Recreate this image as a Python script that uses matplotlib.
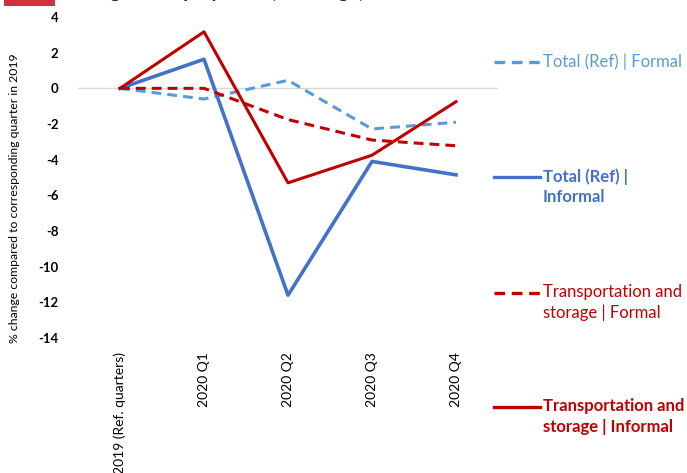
import matplotlib.pyplot as plt
from matplotlib.patches import Rectangle

plt.rcParams['font.family'] = ['Lato', 'DejaVu Sans']

categories = ['2019 (Ref. quarters)', '2020 Q1', '2020 Q2', '2020 Q3', '2020 Q4']
total_formal = [0, -0.6, 0.45, -2.28, -1.9]
total_informal = [0, 1.63, -11.6, -4.1, -4.85]
transport_formal = [0, 0.0, -1.75, -2.9, -3.22]
transport_informal = [0, 3.17, -5.3, -3.75, -0.75]

series_labels = ['Total (Ref) | Formal', 'Total (Ref) |\nInformal',
                 'Transportation and\nstorage | Formal', 'Transportation and\nstorage | Informal']

light_blue = '#5B9BD5'
blue = '#4472C4'
red = '#C00000'

W, H = 687, 473
fig = plt.figure(figsize=(6.87, 4.73), dpi=100)
ax = fig.add_axes([78 / W, 1 - 338 / H, 420 / W, 321 / H])

x = range(len(categories))
dash = (0, (3.2, 2.0))
ax.plot(x, total_formal, color=light_blue, lw=2.2, ls=dash)
ax.plot(x, total_informal, color=blue, lw=2.6)
ax.plot(x, transport_formal, color=red, lw=2.2, ls=dash)
ax.plot(x, transport_informal, color=red, lw=2.2)

ax.set_xlim(-0.5, 4.5)
ax.set_ylim(-14, 4)
ax.set_yticks(range(-14, 5, 2))
ax.axhline(0, color='#d9d9d9', lw=1, zorder=0)
for s in ax.spines.values():
    s.set_visible(False)
ax.tick_params(length=0)
ax.tick_params(axis='y', pad=14, labelsize=9.5)
ax.set_yticklabels([str(v) for v in range(-14, 5, 2)], fontweight='bold')
ax.set_xticks(list(x))
ax.set_xticklabels(categories, rotation=90, fontsize=10, va='top')
ax.tick_params(axis='x', pad=10)

fig.text(15 / W, 1 - 198 / H, '% change compared to corresponding quarter in 2019',
         rotation=90, ha='center', va='center', fontsize=8.8)

# legend drawn on the right side
legend_items = [
    (light_blue, dash, 62, 'normal', series_labels[0]),
    (blue, '-', 177, 'bold', series_labels[1]),
    (red, dash, 293, 'normal', series_labels[2]),
    (red, '-', 407, 'bold', series_labels[3]),
]
for color, ls, ypix, weight, label in legend_items:
    yf = 1 - ypix / H
    fig.add_artist(plt.Line2D([494 / W, 540 / W], [yf, yf], color=color, lw=2.4, ls=ls))
    fig.text(543 / W, yf + 9 / H, label, color=color, fontsize=12, fontweight=weight,
             ha='left', va='top', linespacing=1.35)

# red marker and title (mostly above the visible area, as in the source crop)
fig.add_artist(Rectangle((4 / W, 1 - 6 / H), 51 / W, 6 / H, color='#D0313D',
                         transform=fig.transFigure, lw=0))
fig.text(65 / W, 1 + 2.5 / H, 'Change in employment (% change)', fontsize=14,
         fontweight='bold', va='baseline', ha='left', color='#222222')

fig.savefig('out.png', dpi=100)
